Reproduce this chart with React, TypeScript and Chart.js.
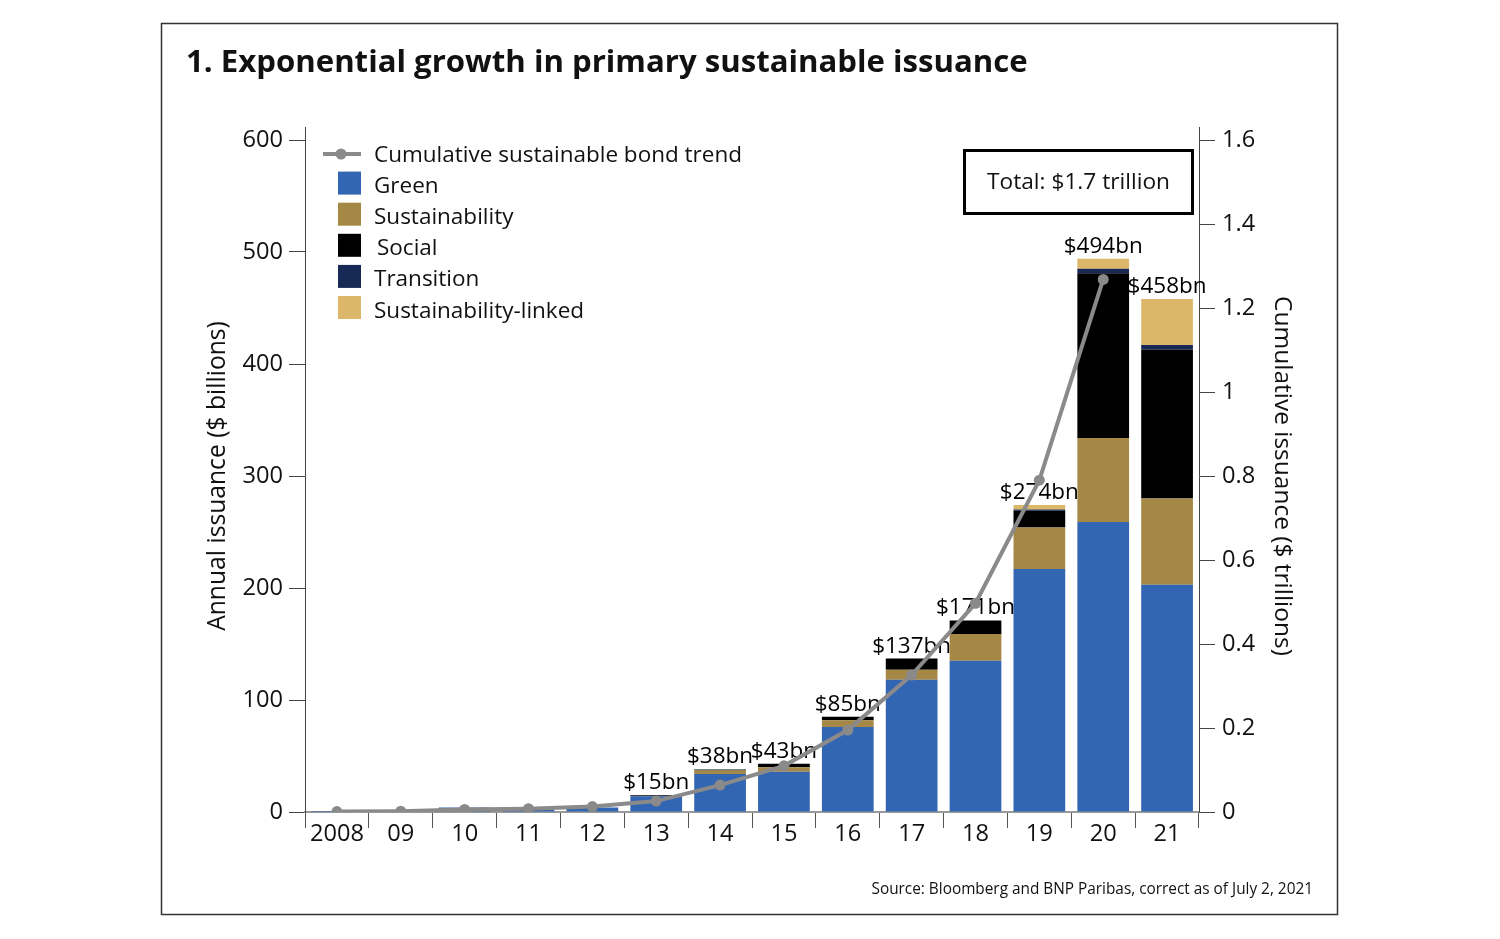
import React, { useEffect, useRef } from 'react';
import { Chart, registerables } from 'chart.js';

Chart.register(...registerables);

const FAMILY = '"Open Sans", "Noto Sans", sans-serif';

const categories = ['2008', '09', '10', '11', '12', '13', '14', '15', '16', '17', '18', '19', '20', '21'];
const green = [1, 0, 4, 2, 4, 14, 34, 36, 76, 118, 135, 217, 259, 203];
const sustainability = [0, 0, 0, 0, 0, 0, 3, 4, 6, 9, 24, 37, 75, 77];
const social = [0, 0, 0, 0, 0, 1, 1, 3, 3, 10, 12, 15, 147, 133];
const transition = [0, 0, 0, 0, 0, 0, 0, 0, 0, 0, 0, 1, 4, 4];
const sustainabilityLinked = [0, 0, 0, 0, 0, 0, 0, 0, 0, 0, 0, 4, 9, 41];
const cumulative = [0.001, 0.002, 0.006, 0.008, 0.013, 0.026, 0.064, 0.11, 0.195, 0.326, 0.497, 0.79, 1.268, null];
const totalLabels = [null, null, null, null, null, '$15bn', '$38bn', '$43bn', '$85bn', '$137bn', '$171bn', '$274bn', '$494bn', '$458bn'];

const seriesNames = ['Green', 'Sustainability', 'Social', 'Transition', 'Sustainability-linked'];
const seriesColors = ['#3366B2', '#A58845', '#000000', '#162A55', '#DCB76A'];
const lineName = 'Cumulative sustainable bond trend';
const lineColor = '#8A8A8A';

const titleText = '1. Exponential growth in primary sustainable issuance';
const sourceText = 'Source: Bloomberg and BNP Paribas, correct as of July 2, 2021';
const totalText = 'Total: $1.7 trillion';
const leftTitle = 'Annual issuance ($ billions)';
const rightTitle = 'Cumulative issuance ($ trillions)';

export default function App() {
  const ref = useRef<HTMLCanvasElement>(null);

  useEffect(() => {
    const canvas = ref.current!;
    const mctx = document.createElement('canvas').getContext('2d')!;
    const fit = (text: string, weight: string, target: number) => {
      mctx.font = `${weight} 100px ${FAMILY}`;
      return (100 * target) / mctx.measureText(text).width;
    };
    const titleSize = fit(titleText, 'bold', 842);
    const legendSize = fit(lineName, 'normal', 368);
    const tickSize = fit('2008', 'normal', 54);
    const labelSize = fit('$494bn', 'normal', 79);
    const totalSize = fit(totalText, 'normal', 183);
    const sourceSize = fit(sourceText, 'normal', 442);
    const leftTitleSize = fit(leftTitle, 'normal', 310);
    const rightTitleSize = fit(rightTitle, 'normal', 360);

    const stackTotals = categories.map((_, i) =>
      green[i] + sustainability[i] + social[i] + transition[i] + sustainabilityLinked[i]);

    const decor = {
      id: 'decor',
      beforeDatasetDraw(chart: any, args: any) {
        if (args.meta.type !== 'line') return;
        const ctx = chart.ctx;
        const xs = chart.scales.x;
        const ys = chart.scales.y;
        ctx.save();
        ctx.fillStyle = '#000';
        ctx.font = `normal ${labelSize}px ${FAMILY}`;
        ctx.textAlign = 'center';
        ctx.textBaseline = 'alphabetic';
        totalLabels.forEach((t, i) => {
          if (!t) return;
          ctx.fillText(t, xs.getPixelForValue(i), ys.getPixelForValue(stackTotals[i]) - 6);
        });
        ctx.restore();
      },
      afterDraw(chart: any) {
        const ctx = chart.ctx;
        const area = chart.chartArea;
        ctx.save();
        // frame
        ctx.strokeStyle = '#333';
        ctx.lineWidth = 1.5;
        ctx.strokeRect(161.5, 23.5, 1176, 891);
        // axis line extensions
        ctx.strokeStyle = '#444';
        ctx.lineWidth = 1;
        ctx.beginPath();
        ctx.moveTo(area.left + 0.5, 127);
        ctx.lineTo(area.left + 0.5, area.top);
        ctx.moveTo(area.right + 0.5, 127);
        ctx.lineTo(area.right + 0.5, area.top);
        ctx.stroke();
        // title
        ctx.fillStyle = '#111';
        ctx.font = `bold ${titleSize}px ${FAMILY}`;
        ctx.textAlign = 'left';
        ctx.textBaseline = 'alphabetic';
        ctx.fillText(titleText, 186, 71.5);
        // source
        ctx.font = `normal ${sourceSize}px ${FAMILY}`;
        ctx.textAlign = 'right';
        ctx.fillText(sourceText, 1313, 894);
        // total box
        ctx.strokeStyle = '#000';
        ctx.lineWidth = 3;
        ctx.strokeRect(964.5, 150.5, 228, 63);
        ctx.font = `normal ${totalSize}px ${FAMILY}`;
        ctx.textAlign = 'center';
        ctx.fillText(totalText, 1078.5, 189);
        // legend
        ctx.font = `normal ${legendSize}px ${FAMILY}`;
        ctx.textAlign = 'left';
        const baseY = 162;
        const step = 31.1;
        ctx.strokeStyle = lineColor;
        ctx.lineWidth = 4;
        ctx.beginPath();
        ctx.moveTo(323, 154);
        ctx.lineTo(361, 154);
        ctx.stroke();
        ctx.fillStyle = lineColor;
        ctx.beginPath();
        ctx.arc(341, 154, 5.5, 0, Math.PI * 2);
        ctx.fill();
        ctx.fillStyle = '#111';
        ctx.fillText(lineName, 374, baseY);
        seriesNames.forEach((name, k) => {
          const by = baseY + step * (k + 1);
          ctx.fillStyle = seriesColors[k];
          ctx.fillRect(338, by - 21.5, 23, 23);
          ctx.fillStyle = '#111';
          ctx.fillText(name, name === 'Social' ? 377 : 374, by);
        });
        // axis titles
        ctx.save();
        ctx.font = `normal ${leftTitleSize}px ${FAMILY}`;
        ctx.translate(225, (area.top + area.bottom) / 2);
        ctx.rotate(-Math.PI / 2);
        ctx.textAlign = 'center';
        ctx.fillText(leftTitle, 0, 0);
        ctx.restore();
        ctx.save();
        ctx.font = `normal ${rightTitleSize}px ${FAMILY}`;
        ctx.translate(1275, (area.top + area.bottom) / 2);
        ctx.rotate(Math.PI / 2);
        ctx.textAlign = 'center';
        ctx.fillText(rightTitle, 0, 0);
        ctx.restore();
        ctx.restore();
      },
    };

    const barSets = [green, sustainability, social, transition, sustainabilityLinked].map((d, k) => ({
      type: 'bar' as const,
      label: seriesNames[k],
      data: d,
      backgroundColor: seriesColors[k],
      borderWidth: 0,
      yAxisID: 'y',
      stack: 'issuance',
      order: 1,
      barPercentage: 0.81,
      categoryPercentage: 1,
    }));

    const chart = new Chart(canvas, {
      type: 'bar',
      data: {
        labels: categories,
        datasets: [
          {
            type: 'line',
            label: lineName,
            data: cumulative,
            borderColor: lineColor,
            backgroundColor: lineColor,
            borderWidth: 4,
            pointRadius: 5.5,
            pointBorderWidth: 0,
            pointBackgroundColor: lineColor,
            tension: 0,
            yAxisID: 'y2',
            order: 0,
            spanGaps: false,
          } as any,
          ...barSets,
        ],
      },
      options: {
        responsive: false,
        animation: false,
        devicePixelRatio: 1,
        events: [],
        layout: { padding: { left: 200, right: 201, top: 140, bottom: 77 } },
        plugins: { legend: { display: false }, tooltip: { enabled: false }, title: { display: false } },
        scales: {
          x: {
            stacked: true,
            offset: true,
            afterFit: (s: any) => { s.height = 50; },
            grid: { drawOnChartArea: false, drawTicks: true, tickLength: 16, color: '#555', offset: true },
            border: { display: true, color: '#999', width: 2 },
            ticks: { color: '#111', font: { family: FAMILY, size: tickSize }, padding: -8, maxRotation: 0, autoSkip: false },
          },
          y: {
            position: 'left',
            stacked: true,
            min: 0,
            max: 600,
            afterFit: (s: any) => { s.width = 105; },
            grid: { drawOnChartArea: false, drawTicks: true, tickLength: 16, color: '#444' },
            border: { display: true, color: '#444', width: 1 },
            ticks: { stepSize: 100, color: '#111', font: { family: FAMILY, size: tickSize }, padding: 6 },
          },
          y2: {
            position: 'right',
            stacked: false,
            min: 0,
            max: 1.6,
            afterFit: (s: any) => { s.width = 100; },
            grid: { drawOnChartArea: false, drawTicks: true, tickLength: 16, color: '#444' },
            border: { display: true, color: '#444', width: 1 },
            ticks: {
              stepSize: 0.2,
              color: '#111',
              font: { family: FAMILY, size: tickSize },
              padding: 7,
              callback: (v: any) => String(Math.round(Number(v) * 10) / 10),
            },
          },
        },
      },
      plugins: [decor],
    });
    return () => chart.destroy();
  }, []);

  return (
    <div style={{ position: 'fixed', left: 0, top: 0, width: 1500, height: 939, background: '#fff' }}>
      <canvas ref={ref} width={1500} height={939} style={{ display: 'block', width: 1500, height: 939 }} />
    </div>
  );
}
